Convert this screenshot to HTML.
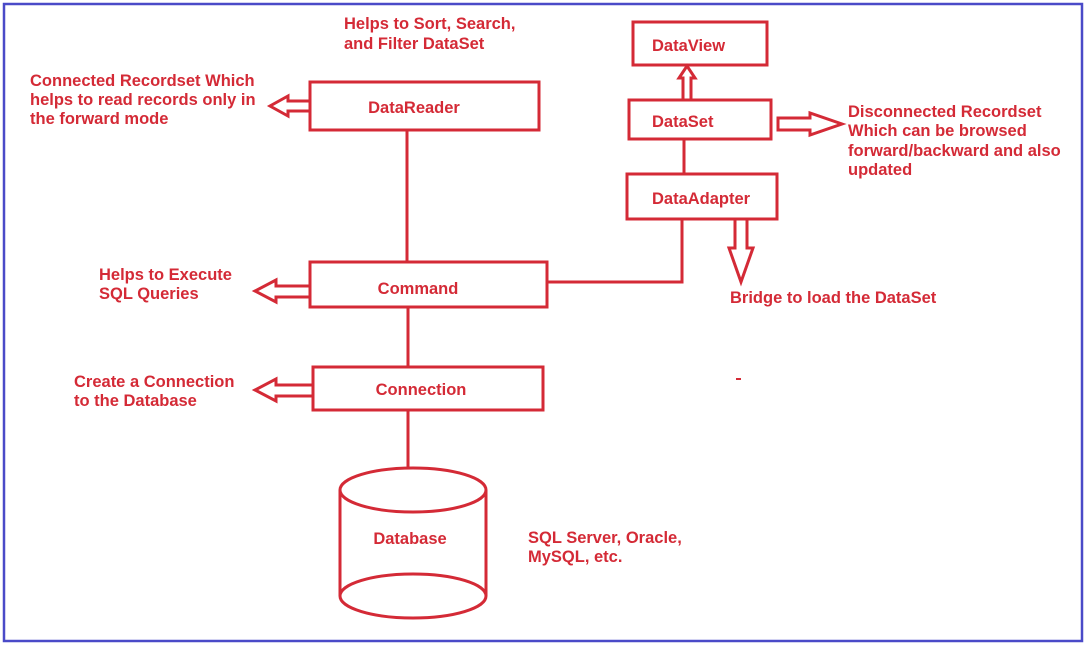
<!DOCTYPE html>
<html><head><meta charset="utf-8"><style>
html,body{margin:0;padding:0;background:#fff}
svg{display:block}
text{font-family:"Liberation Sans",Arial,sans-serif;font-weight:bold;font-size:16.5px;fill:#d42a36}
</style></head><body>
<svg width="1086" height="647" viewBox="0 0 1086 647">
<rect x="4" y="4" width="1078" height="637" fill="#fff" stroke="#4a4ac8" stroke-width="2.5"/>
<g fill="none" stroke="#d42a36" stroke-width="3">
<rect x="310" y="82" width="229" height="48"/>
<rect x="310" y="262" width="237" height="45"/>
<rect x="313" y="367" width="230" height="43"/>
<rect x="633" y="22" width="134" height="43"/>
<rect x="629" y="100" width="142" height="39"/>
<rect x="627" y="174" width="150" height="45"/>
<line x1="407" y1="130" x2="407" y2="262"/>
<line x1="408" y1="307" x2="408" y2="367"/>
<line x1="408" y1="410" x2="408" y2="468"/>
<polyline points="547,282 682,282 682,219"/>
<line x1="684" y1="139" x2="684" y2="174"/>
<polygon points="310,101 288,101 288,96 270,106 288,116 288,111 310,111"/>
<polygon points="310,286 276,286 276,280 255,291 276,302 276,297 310,297"/>
<polygon points="313,385 276,385 276,379 255,390 276,401 276,396 313,396"/>
<polygon points="683,100 683,78 679,78 687,66 695,78 691,78 691,100"/>
<polygon points="778,118 810,118 810,113 842,124 810,135 810,130 778,130"/>
<polygon points="735,219 735,248 729,248 741,282 753,248 747,248 747,219"/>
<path d="M340,490 L340,596 M486,490 L486,596"/>
<ellipse cx="413" cy="490" rx="73" ry="22"/>
<ellipse cx="413" cy="596" rx="73" ry="22"/>
</g>
<line x1="736" y1="379" x2="741" y2="379" stroke="#d42a36" stroke-width="2"/>
<text x="414" y="113" text-anchor="middle">DataReader</text>
<text x="418" y="294" text-anchor="middle">Command</text>
<text x="421" y="395" text-anchor="middle">Connection</text>
<text x="652" y="51">DataView</text>
<text x="652" y="127">DataSet</text>
<text x="652" y="204">DataAdapter</text>
<text x="410" y="544" text-anchor="middle">Database</text>
<text x="344" y="29">Helps to Sort, Search,</text>
<text x="344" y="49">and Filter DataSet</text>
<text x="30" y="86">Connected Recordset Which</text>
<text x="30" y="105">helps to read records only in</text>
<text x="30" y="124">the forward mode</text>
<text x="99" y="280">Helps to Execute</text>
<text x="99" y="299">SQL Queries</text>
<text x="74" y="387">Create a Connection</text>
<text x="74" y="406">to the Database</text>
<text x="848" y="117">Disconnected Recordset</text>
<text x="848" y="136">Which can be browsed</text>
<text x="848" y="156">forward/backward and also</text>
<text x="848" y="175">updated</text>
<text x="730" y="303">Bridge to load the DataSet</text>
<text x="528" y="543">SQL Server, Oracle,</text>
<text x="528" y="562">MySQL, etc.</text>
</svg>
</body></html>
